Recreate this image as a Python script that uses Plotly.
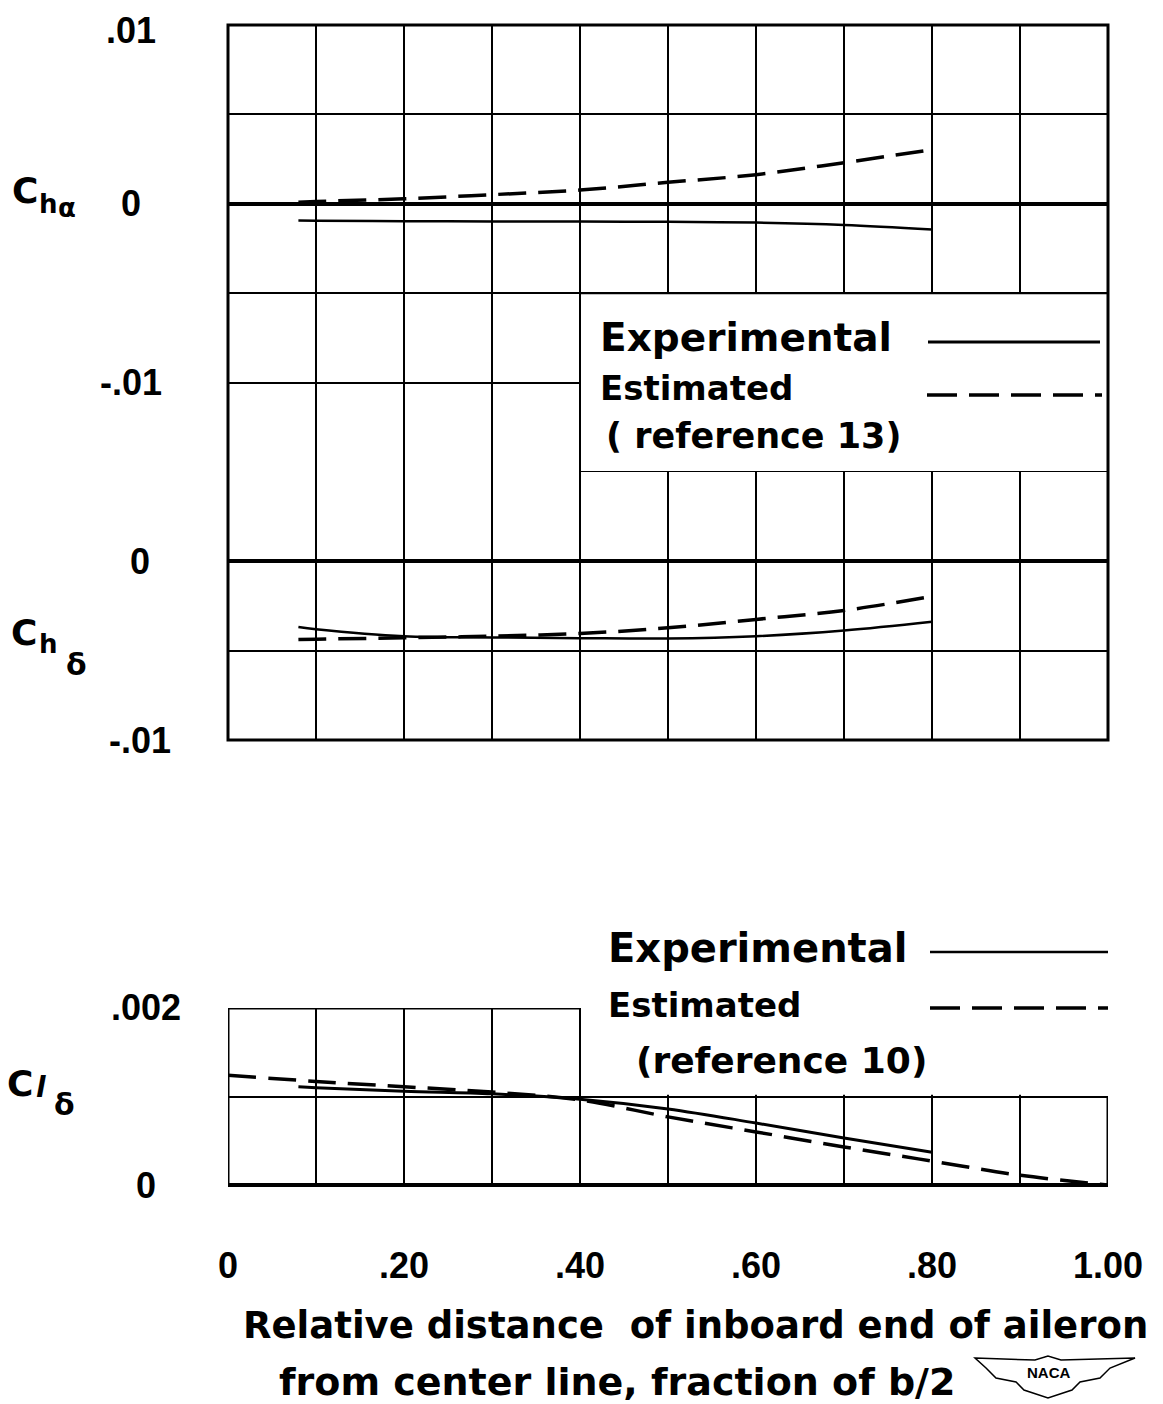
import plotly.graph_objects as go

# ---------------- data ----------------
x_ticks = [0.0, 0.1, 0.2, 0.3, 0.4, 0.5, 0.6, 0.7, 0.8, 0.9, 1.0]
x_tick_text = ["0", "", ".20", "", ".40", "", ".60", "", ".80", "", "1.00"]

x_exp = [0.08, 0.1, 0.2, 0.3, 0.4, 0.5, 0.6, 0.7, 0.8]
x_est = [0.08, 0.1, 0.2, 0.3, 0.4, 0.5, 0.6, 0.7, 0.8]

cha_exp = [-0.00094, -0.00095, -0.00097, -0.00099, -0.00099, -0.00101, -0.00105, -0.00118, -0.00144]
cha_est = [0.00009, 0.00013, 0.00028, 0.00051, 0.00077, 0.00120, 0.00163, 0.00230, 0.00303]

chd_exp = [-0.00368, -0.00380, -0.00419, -0.00426, -0.00430, -0.00432, -0.00419, -0.00387, -0.00338]
chd_est = [-0.00438, -0.00436, -0.00428, -0.00419, -0.00404, -0.00372, -0.00325, -0.00275, -0.00196]

x_cl_exp = [0.08, 0.1, 0.2, 0.3, 0.4, 0.5, 0.6, 0.7, 0.8]
cld_exp = [0.00111, 0.00110, 0.00106, 0.00103, 0.00097, 0.00086, 0.00070, 0.00053, 0.00037]
x_cl_est = [0.0, 0.1, 0.2, 0.3, 0.4, 0.5, 0.6, 0.7, 0.8, 0.9, 1.0]
cld_est = [0.00124, 0.00117, 0.00111, 0.00105, 0.00096, 0.00077, 0.00060, 0.00043, 0.00027, 0.00011, 0.0]

cha_tick_vals = [0.01, 0.0, -0.01]
cha_tick_text = [".01", "0", "-.01"]
chd_tick_vals = [0.0, -0.01]
chd_tick_text = ["0", "-.01"]
cld_tick_vals = [0.002, 0.0]
cld_tick_text = [".002", "0"]

legend_top = ["Experimental", "Estimated", "( reference 13)"]
legend_bot = ["Experimental", "Estimated", "(reference 10)"]
xtitle_lines = ["Relative distance  of inboard end of aileron",
                "from center line, fraction of b/2"]

# ---------------- geometry helpers ----------------
# the page body adds an 8px offset; screen coords (xs, ys) are converted to paper
W, H = 1163, 1404
OFF = 8
ML, MR, MT, MB = 220, 63, 17, 227
PW, PH = W - ML - MR, H - MT - MB


def px(xs):
    return (xs - OFF - ML) / PW


def py(ys):
    return (H - MB - (ys - OFF)) / PH


D_A = [py(472), 1.0]
D_D = [py(740), py(472)]
D_L = [0.0, py(1008)]

NUM_FONT = "Liberation Sans, Arial, sans-serif"
TXT_FONT = "DejaVu Sans, Liberation Sans, sans-serif"

fig = go.Figure()

solid = dict(color="black", width=2.5)
dashed = dict(color="black", width=3.5, dash="28px,12px")

fig.add_trace(go.Scatter(x=x_exp, y=cha_exp, mode="lines", line=solid, line_shape="spline",
                         xaxis="x", yaxis="y", name="Experimental"))
fig.add_trace(go.Scatter(x=x_est, y=cha_est, mode="lines", line=dashed, line_shape="spline",
                         xaxis="x", yaxis="y", name="Estimated (reference 13)"))
fig.add_trace(go.Scatter(x=x_exp, y=chd_exp, mode="lines", line=solid, line_shape="spline",
                         xaxis="x", yaxis="y2", name="Experimental"))
fig.add_trace(go.Scatter(x=x_est, y=chd_est, mode="lines", line=dashed, line_shape="spline",
                         xaxis="x", yaxis="y2", name="Estimated (reference 13)"))
fig.add_trace(go.Scatter(x=x_cl_exp, y=cld_exp, mode="lines", line=dict(color="black", width=3),
                         line_shape="spline", xaxis="x", yaxis="y3", name="Experimental"))
fig.add_trace(go.Scatter(x=x_cl_est, y=cld_est, mode="lines", line=dashed, line_shape="spline",
                         xaxis="x", yaxis="y3", name="Estimated (reference 10)"))

grid = dict(showgrid=True, gridcolor="black", gridwidth=2, zeroline=True,
            zerolinecolor="black", zerolinewidth=4, showline=False,
            showticklabels=False, ticks="", fixedrange=True)

fig.update_layout(
    width=W, height=H,
    margin=dict(l=ML, r=MR, t=MT, b=MB),
    paper_bgcolor="white", plot_bgcolor="white",
    showlegend=False,
    xaxis=dict(domain=[0, 1], range=[0, 1], anchor="y3", tickmode="array",
               tickvals=x_ticks, ticktext=x_tick_text, showgrid=True, gridcolor="black",
               gridwidth=2, zeroline=False, showline=False, ticks="",
               ticklabelstandoff=56, fixedrange=True,
               tickfont=dict(family=NUM_FONT, size=36, color="black", weight="bold")),
    yaxis=dict(domain=D_A, range=[-0.015, 0.01], dtick=0.005, tick0=0, **grid),
    yaxis2=dict(domain=D_D, range=[-0.01, 0.005], dtick=0.005, tick0=0, **grid),
    yaxis3=dict(domain=D_L, range=[0, 0.002], dtick=0.001, tick0=0, **grid),
)

shapes = []
# outer border of the upper chart
shapes.append(dict(type="rect", xref="paper", yref="paper", x0=0, x1=1, y0=D_D[0], y1=1,
                   line=dict(color="black", width=3), layer="above"))
# legend box in upper chart
shapes.append(dict(type="rect", xref="x", yref="y", x0=0.4, x1=1.0, y0=-0.015, y1=-0.005,
                   fillcolor="white", line=dict(color="black", width=2), layer="between"))
# blank area in lower chart (legend)
shapes.append(dict(type="rect", xref="x", yref="y3", x0=0.403, x1=1.02, y0=0.00102, y1=0.0021,
                   fillcolor="white", line=dict(width=0), layer="between"))
# lower chart border
shapes.append(dict(type="path", xref="x", yref="y3",
                   path="M 0.4,0.002 L 0,0.002 L 0,0 L 1,0 L 1,0.001",
                   line=dict(color="black", width=3), layer="above"))


def hline(x0s, x1s, ys, dash=None, width=3):
    ln = dict(color="black", width=width)
    if dash:
        ln["dash"] = dash
    return dict(type="line", xref="paper", yref="paper", x0=px(x0s), x1=px(x1s),
                y0=py(ys), y1=py(ys), line=ln, layer="above")


# legend samples
shapes.append(hline(928, 1100, 342, width=3))
shapes.append(hline(927, 1102, 395, dash="30px,12px", width=3.5))
shapes.append(hline(930, 1108, 952, width=2.5))
shapes.append(hline(930, 1108, 1008, dash="30px,12px", width=3.5))

# NACA logo outline
logo_pts = [(975, 1358), (1035, 1360), (1048, 1356), (1061, 1360), (1135, 1358), (1110, 1368),
            (1100, 1378), (1080, 1382), (1072, 1390), (1048, 1398), (1024, 1390), (1016, 1382),
            (996, 1378), (986, 1368)]
logo_path = "M " + " L ".join(f"{px(a):.4f},{py(b):.4f}" for a, b in logo_pts) + " Z"
shapes.append(dict(type="path", xref="paper", yref="paper", path=logo_path,
                   line=dict(color="black", width=1.5), layer="above"))

fig.update_layout(shapes=shapes)

ann = []


def text(t, xs, ys, size, family=TXT_FONT, xanchor="center", bold=True):
    ann.append(dict(text=t, xref="paper", yref="paper", x=px(xs), y=py(ys), xanchor=xanchor,
                    yanchor="middle", showarrow=False,
                    font=dict(family=family, size=size, color="black",
                              weight="bold" if bold else "normal")))


def ytick(vals, labels, yref, xs):
    for v, t in zip(vals, labels):
        # keep the topmost label inside the page
        shift = -5 if (yref == "y" and v == max(vals)) else 0
        ann.append(dict(text=t, xref="paper", yref=yref, x=px(xs), y=v, xanchor="center",
                        yanchor="middle", showarrow=False, yshift=shift,
                        font=dict(family=NUM_FONT, size=36, color="black", weight="bold")))


# y tick labels
ytick(cha_tick_vals, cha_tick_text, "y", 131)
ytick(chd_tick_vals, chd_tick_text, "y2", 140)
ytick(cld_tick_vals, cld_tick_text, "y3", 146)

# axis symbol labels
text("C", 25, 190, 36)
text("h", 48, 204, 26)
text("α", 67, 208, 26)
text("C", 24, 632, 36)
text("h", 48, 644, 26)
text("δ", 76, 664, 30)
text("C", 20, 1083, 36)
text("<i>l</i>", 41, 1087, 28)
text("δ", 64, 1104, 30)

# legends
text(legend_top[0], 598, 338, 39, xanchor="left")
text(legend_top[1], 598, 388, 34, xanchor="left")
text(legend_top[2], 604, 436, 35, xanchor="left")
text(legend_bot[0], 606, 948, 40, xanchor="left")
text(legend_bot[1], 606, 1005, 34, xanchor="left")
text(legend_bot[2], 634, 1060, 36, xanchor="left")

# x-axis title
text(xtitle_lines[0], 695, 1325, 37)
text(xtitle_lines[1], 617, 1382, 38)
text("NACA", 1048, 1372, 15, family="Liberation Sans, sans-serif")

fig.update_layout(annotations=ann)

fig.write_html("out.html")
